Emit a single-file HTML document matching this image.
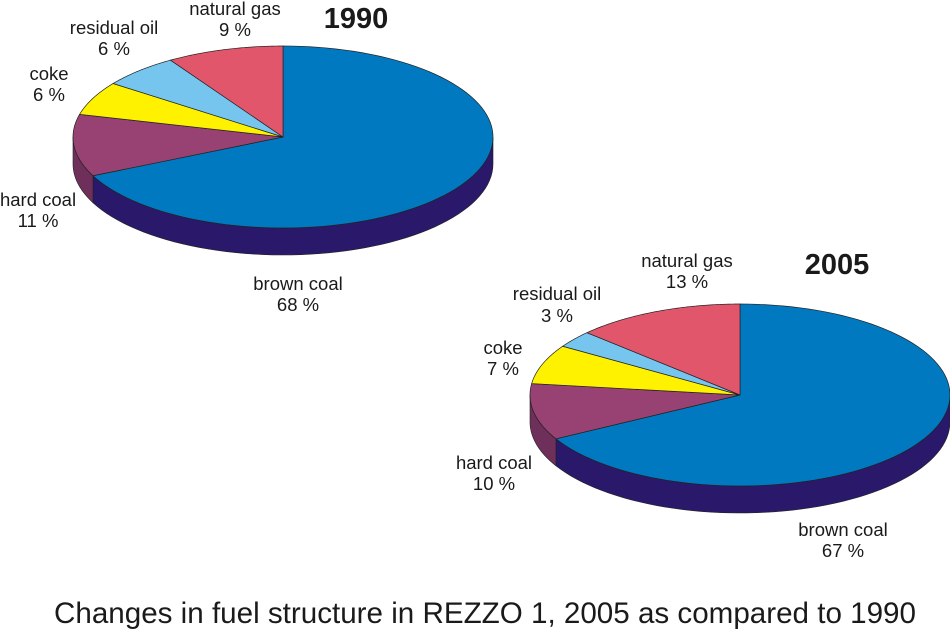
<!DOCTYPE html>
<html><head><meta charset="utf-8"><style>
body{margin:0;background:#fff;width:950px;height:630px;overflow:hidden}
svg{display:block}
text{font-family:"Liberation Sans",Arial,sans-serif;fill:#1a1a1a}
</style></head><body>
<svg id="s" width="950" height="630" viewBox="0 0 950 630" xmlns="http://www.w3.org/2000/svg">
<g id="p1"></g><g id="p2"></g>
<g font-size="18.5" text-anchor="middle">
<text x="235" y="15">natural gas</text><text x="235" y="36">9 %</text>
<text x="114" y="34">residual oil</text><text x="114" y="55">6 %</text>
<text x="49" y="80">coke</text><text x="49" y="101">6 %</text>
<text x="38" y="206">hard coal</text><text x="38" y="227">11 %</text>
<text x="298" y="290">brown coal</text><text x="298" y="311">68 %</text>
<text x="687" y="267">natural gas</text><text x="687" y="288">13 %</text>
<text x="557" y="300">residual oil</text><text x="557" y="322">3 %</text>
<text x="503" y="354">coke</text><text x="503" y="375">7 %</text>
<text x="494" y="469">hard coal</text><text x="494" y="490">10 %</text>
<text x="843" y="536">brown coal</text><text x="843" y="557">67 %</text>
</g>
<text x="356" y="28" font-size="29" font-weight="bold" text-anchor="middle">1990</text>
<text x="837" y="274" font-size="29" font-weight="bold" text-anchor="middle">2005</text>
<text x="485" y="623" font-size="29.6" text-anchor="middle">Changes in fuel structure in REZZO 1, 2005 as compared to 1990</text>
</svg>
<script>
var topC=["#0079C1","#974273","#FFF200","#75C5EF","#E2566C"];
var sideC=["#2A186B","#6E2F5A","#C9BE00","#4E9AC4","#A83A4C"];
function pie(g,cx,cy,rx,ry,d,vals){
  var el=document.getElementById(g),h="",pt=function(t,dy){return (cx+rx*Math.sin(t)).toFixed(2)+","+(cy-ry*Math.cos(t)+dy).toFixed(2)};
  var a=0,angs=[];
  vals.forEach(function(v){angs.push([a,a+v*2*Math.PI]);a+=v*2*Math.PI;});
  angs.forEach(function(r,i){
    var s=Math.max(r[0],Math.PI/2),e=Math.min(r[1],3*Math.PI/2);
    if(e>s){var pts=[],n=60,k;
      for(k=0;k<=n;k++)pts.push(pt(s+(e-s)*k/n,0));
      for(k=n;k>=0;k--)pts.push(pt(s+(e-s)*k/n,d));
      h+='<polygon points="'+pts.join(" ")+'" fill="'+sideC[i]+'" stroke="#222" stroke-width="0.6"/>';}
  });
  angs.forEach(function(r,i){var pts=[cx+","+cy],n=100;
    for(var k=0;k<=n;k++)pts.push(pt(r[0]+(r[1]-r[0])*k/n,0));
    h+='<polygon points="'+pts.join(" ")+'" fill="'+topC[i]+'" stroke="#222" stroke-width="0.7"/>';});
  el.innerHTML=h;
}
pie("p1",283,137,210,91,27,[0.68,0.11,0.06,0.06,0.09]);
pie("p2",740,395,210,91,27,[0.67,0.10,0.07,0.03,0.13]);
</script>
</body></html>
